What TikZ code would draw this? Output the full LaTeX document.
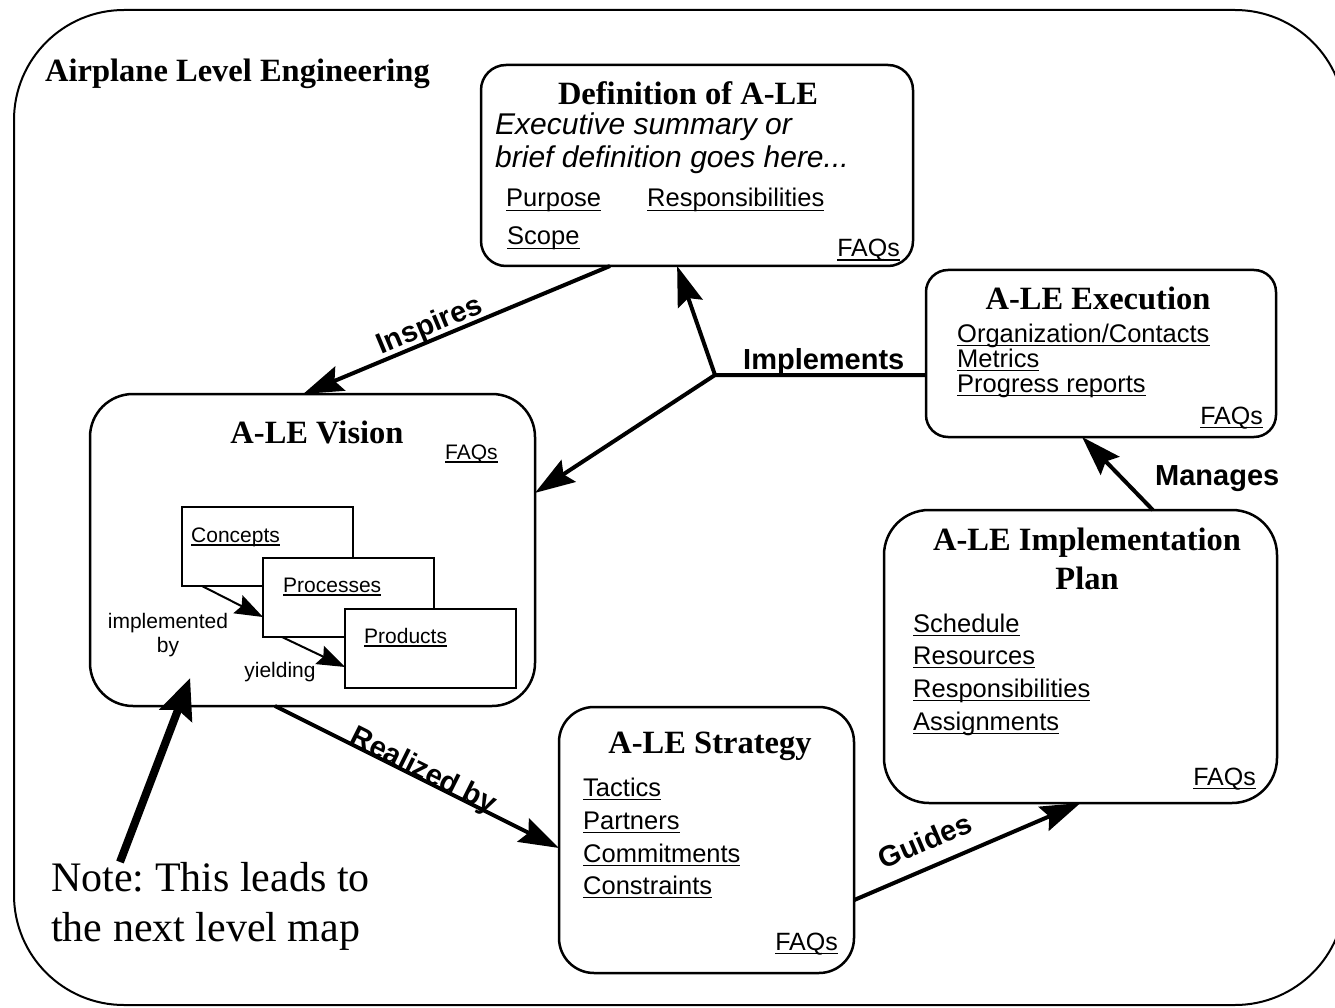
\documentclass[tikz,border=0pt]{standalone}
\usepackage{fontspec}
\setmainfont{Liberation Serif}
\setsansfont{Liberation Sans}
\usetikzlibrary{arrows.meta,calc}
\frenchspacing

% underlined link text with a rule at a fixed depth
\newsavebox\lkbox
\newcommand{\lk}[1]{\sbox\lkbox{#1}\rlap{\rule[-0.17em]{\wd\lkbox}{0.07em}}\usebox\lkbox}

\begin{document}
\begin{tikzpicture}[x=1pt,y=-1pt,
  box/.style={draw, line width=2.5pt, inner sep=0pt, outer sep=0pt, fill=white},
  sub/.style={draw, line width=2.3pt, inner sep=0pt, outer sep=0pt, fill=white,
    minimum width=171pt, minimum height=79pt},
  title/.style={font=\fontsize{32.5}{36}\selectfont\bfseries, inner sep=0pt, anchor=base},
  item/.style={font=\sffamily\fontsize{25.5}{30}\selectfont, inner sep=0pt, anchor=base west},
  faq/.style={font=\sffamily\fontsize{25}{30}\selectfont, inner sep=0pt, anchor=base east},
  small/.style={font=\sffamily\fontsize{21}{25}\selectfont, inner sep=0pt},
  lbl/.style={font=\sffamily\bfseries\fontsize{29}{34}\selectfont, inner sep=0pt},
  notetext/.style={font=\fontsize{42}{50}\selectfont, inner sep=0pt, anchor=base west},
  conn/.style={line width=4pt, -{Stealth[length=40pt,width=26pt,inset=6pt]}},
  iarr/.style={line width=2pt, -{Stealth[length=28pt,width=20pt,inset=4pt]}},
  notearr/.style={line width=8pt, -{Stealth[length=40pt,width=34pt,inset=6pt]}}
]
\clip (0,0) rectangle (1335,1008);
\fill[white] (0,0) rectangle (1335,1008);

% outer frame
\node[draw, line width=2pt, rounded corners=110pt, inner sep=0pt,
  minimum width=1331pt, minimum height=995pt] (frame) at (679.5,507.5) {};
\node[title, anchor=base west] (frameTitle) at (45,82) {Airplane Level Engineering};

% main boxes
\node[box, rounded corners=25pt, minimum width=432pt, minimum height=201pt] (def) at (697,165.5) {};
\node[box, rounded corners=22pt, minimum width=350pt, minimum height=167pt] (exec) at (1101,353.5) {};
\node[box, rounded corners=43pt, minimum width=445pt, minimum height=312pt] (vis) at (312.5,550) {};
\node[box, rounded corners=35pt, minimum width=295pt, minimum height=266pt] (str) at (706.5,840) {};
\node[box, rounded corners=45pt, minimum width=393pt, minimum height=293pt] (plan) at (1080.5,656.5) {};

% Definition of A-LE
\node[title] (defTitle) at (688,105) {Definition of A-LE};
\node[font=\sffamily\itshape\fontsize{30}{34}\selectfont, inner sep=0pt, anchor=base west] (defSum1) at (495,135) {Executive summary or};
\node[font=\sffamily\itshape\fontsize{30}{34}\selectfont, inner sep=0pt, anchor=base west] (defSum2) at (495,168) {brief definition goes here...};
\node[item] (defPurpose) at (506,207) {\lk{Purpose}};
\node[item] (defResp) at (647,207) {\lk{Responsibilities}};
\node[item] (defScope) at (507,245) {\lk{Scope}};
\node[faq] (defFaq) at (900,257) {\lk{FAQs}};

% A-LE Execution
\node[title] (execTitle) at (1098,309) {A-LE Execution};
\node[item] (execOrg) at (957,342) {\lk{Organization/Contacts}};
\node[item] (execMet) at (957,367) {\lk{Metrics}};
\node[item] (execProg) at (957,392) {\lk{Progress reports}};
\node[faq] (execFaq) at (1263,424) {\lk{FAQs}};

% A-LE Vision
\node[title] (visTitle) at (317,443) {A-LE Vision};
\node[small, anchor=base west] (visFaq) at (445,459) {\lk{FAQs}};
\node[sub] (concepts) at (267.5,546.5) {};
\node[sub] (processes) at (348.5,597.5) {};
\node[sub] (products) at (430.5,648.5) {};
\node[small, anchor=base west] (conTxt) at (191,542) {\lk{Concepts}};
\node[small, anchor=base west] (proTxt) at (283,592) {\lk{Processes}};
\node[small, anchor=base west] (prdTxt) at (364,643) {\lk{Products}};
\node[small, anchor=base] (implTxt) at (168,628) {implemented};
\node[small, anchor=base] (byTxt) at (168,652) {by};
\node[small, anchor=base] (yieldTxt) at (280,677) {yielding};
\draw[iarr] ($(concepts.south west)!0.117!(concepts.south east)$) -- ($(processes.north west)!0.747!(processes.south west)$);
\draw[iarr] ($(processes.south west)!0.111!(processes.south east)$) -- ($(products.north west)!0.734!(products.south west)$);

% A-LE Strategy
\node[title] (strTitle) at (710,753) {A-LE Strategy};
\node[item] (strTac) at (583,796) {\lk{Tactics}};
\node[item] (strPar) at (583,829) {\lk{Partners}};
\node[item] (strCom) at (583,862) {\lk{Commitments}};
\node[item] (strCon) at (583,894) {\lk{Constraints}};
\node[faq] (strFaq) at (838,950) {\lk{FAQs}};

% A-LE Implementation Plan
\node[title] (planTitle1) at (1087,550) {A-LE Implementation};
\node[title] (planTitle2) at (1087,589) {Plan};
\node[item] (planSch) at (913,632) {\lk{Schedule}};
\node[item] (planRes) at (913,664) {\lk{Resources}};
\node[item] (planResp) at (913,697) {\lk{Responsibilities}};
\node[item] (planAss) at (913,730) {\lk{Assignments}};
\node[faq] (planFaq) at (1256,785) {\lk{FAQs}};

% connectors
\draw[conn] ($(def.south west)!0.2986!(def.south east)$)
  -- node[lbl, sloped, above=-2pt, pos=0.57] (inspLbl) {Inspires}
  ($(vis.north west)!0.479!(vis.north east)$);

\coordinate (J) at (715,375);
\draw[line width=4pt] ($(exec.north west)!0.629!(exec.south west)$) -- (J);
\draw[conn] (J) -- ($(def.south west)!0.454!(def.south east)$);
\draw[conn] (J) -- ($(vis.north east)!0.317!(vis.south east)$);
\node[lbl, anchor=base west] (implLbl) at (743,369) {Implements};

\draw[conn] ($(vis.south west)!0.4157!(vis.south east)$)
  -- node[lbl, sloped, anchor=base, pos=0.51] (realLbl) {Realized by}
  ($(str.north west)!0.53!(str.south west)$);

\draw[conn] ($(str.north east)!0.726!(str.south east)$)
  -- node[lbl, sloped, above=14pt, pos=0.36] (guideLbl) {Guides}
  (plan.south);

\draw[conn] ($(plan.north west)!0.684!(plan.north east)$) -- ($(exec.south west)!0.446!(exec.south east)$);
\node[lbl, anchor=base west] (manLbl) at (1155,485) {Manages};

% note leading to the next level map
\node[notetext] (note1) at (51,891) {Note: This leads to};
\node[notetext] (note2) at (51,941) {the next level map};
\coordinate (noteTail) at (120,862);
\coordinate (noteTip) at ($(vis.south west)!0.225!(vis.south east)+(0,-28)$);
\draw[notearr] (noteTail) -- (noteTip);
\end{tikzpicture}
\end{document}
